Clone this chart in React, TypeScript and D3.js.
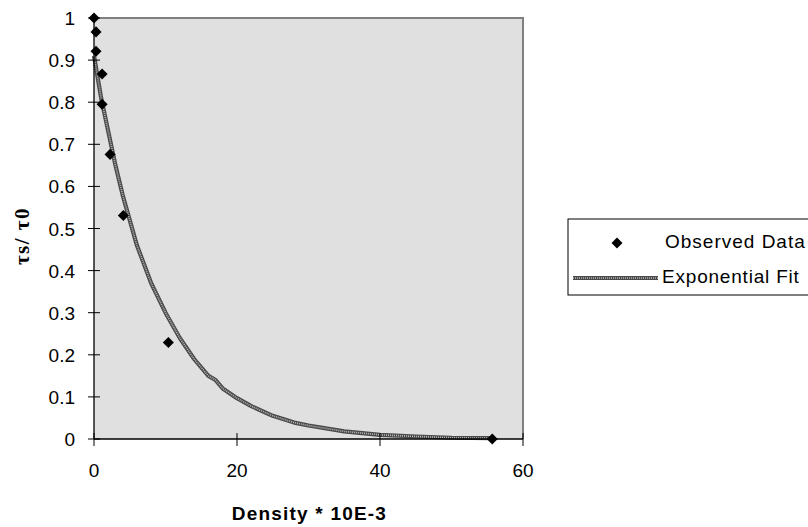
import React from "react";
import * as d3 from "d3";

const obsX = [0, 0.28, 0.28, 1.13, 1.13, 2.25, 4.1, 10.4, 55.7];
const obsY = [1.0, 0.967, 0.921, 0.867, 0.795, 0.676, 0.531, 0.229, 0.0];

const fitX = [0, 1, 2, 3, 4, 5, 6, 8, 10, 12, 14, 16, 17, 18, 20, 22, 25, 28, 30, 35, 40, 45, 50, 55.7];
const fitY = [0.91, 0.81, 0.73, 0.65, 0.58, 0.52, 0.46, 0.37, 0.30, 0.24, 0.19, 0.15, 0.14, 0.12, 0.097, 0.078, 0.055, 0.039, 0.032, 0.018, 0.01, 0.006, 0.003, 0.002];

const xTicks = [0, 20, 40, 60];
const yTicks = [0, 0.1, 0.2, 0.3, 0.4, 0.5, 0.6, 0.7, 0.8, 0.9, 1];

const legendLabels = ["Observed Data", "Exponential Fit"];

export default function App() {
  const W = 808, H = 527;
  const L = 94, R = 523, T = 18, B = 439;
  const x = d3.scaleLinear().domain([0, 60]).range([L, R]);
  const y = d3.scaleLinear().domain([0, 1]).range([B, T]);
  const line = d3.line<number>().x((_, i) => x(fitX[i])).y((d) => y(d));
  const fitPath = line(fitY) || "";
  const diamond = d3.symbol().type(d3.symbolDiamond2).size(78)() || "";
  const font = "'Liberation Sans', Arial, sans-serif";
  const fs = 19;

  return (
    <svg width={W} height={H} style={{ position: "absolute", left: 0, top: 0 }}>
      <rect x={0} y={0} width={W} height={H} fill="#fff" />
      <rect x={L} y={T} width={R - L} height={B - T} fill="#e0e0e0" />
      {/* top & right border */}
      <path d={`M${L},${T}H${R}V${B}`} fill="none" stroke="#808080" strokeWidth={2} />
      {/* fit line */}
      <path d={fitPath} fill="none" stroke="#4a4a4a" strokeWidth={4.2} strokeLinejoin="round" />
      <path d={fitPath} fill="none" stroke="#b8b8b8" strokeWidth={1.6} strokeDasharray="1 1" />
      {/* axes */}
      <line x1={L} y1={T} x2={L} y2={B} stroke="#000" strokeWidth={1.3} />
      <line x1={L} y1={B} x2={R} y2={B} stroke="#000" strokeWidth={1.3} />
      {yTicks.map((t) => (
        <g key={"y" + t}>
          <line x1={L - 6} x2={L + 6} y1={y(t)} y2={y(t)} stroke="#000" strokeWidth={1} />
          <text x={L - 19} y={y(t) + 7} textAnchor="end" fontFamily={font} fontSize={fs}>
            {String(t)}
          </text>
        </g>
      ))}
      {xTicks.map((t) => (
        <g key={"x" + t}>
          <line x1={x(t)} x2={x(t)} y1={B - 6} y2={B + 7} stroke="#000" strokeWidth={1} />
          <text x={x(t)} y={477} textAnchor="middle" fontFamily={font} fontSize={fs}>
            {String(t)}
          </text>
        </g>
      ))}
      {/* observed data */}
      {obsY.map((v, i) => (
        <path key={"p" + i} d={diamond} transform={`translate(${x(obsX[i])},${y(v)})`} fill="#000" />
      ))}
      {/* axis titles */}
      <text x={(L + R) / 2 + 1} y={520} textAnchor="middle" fontFamily={font} fontSize={19} fontWeight="bold" letterSpacing={1.2}>
        Density * 10E-3
      </text>
      <text
        transform={`translate(29,236) rotate(-90)`}
        textAnchor="middle"
        fontFamily="'Liberation Serif', 'DejaVu Serif', serif"
        fontSize={21}
        fontWeight="bold"
        letterSpacing={1.5}
      >
        τs/ τ0
      </text>
      {/* legend */}
      <rect x={568} y={219} width={260} height={76} fill="#fff" stroke="#000" strokeWidth={1} />
      <path d={diamond} transform={`translate(617,243)`} fill="#000" />
      <text x={665} y={248} fontFamily={font} fontSize={fs} letterSpacing={1}>{legendLabels[0]}</text>
      <line x1={573} x2={658} y1={278} y2={278} stroke="#4a4a4a" strokeWidth={4.2} />
      <line x1={573} x2={658} y1={278} y2={278} stroke="#b8b8b8" strokeWidth={1.6} strokeDasharray="1 1" />
      <text x={662} y={283} fontFamily={font} fontSize={fs} letterSpacing={0.8}>{legendLabels[1]}</text>
    </svg>
  );
}
